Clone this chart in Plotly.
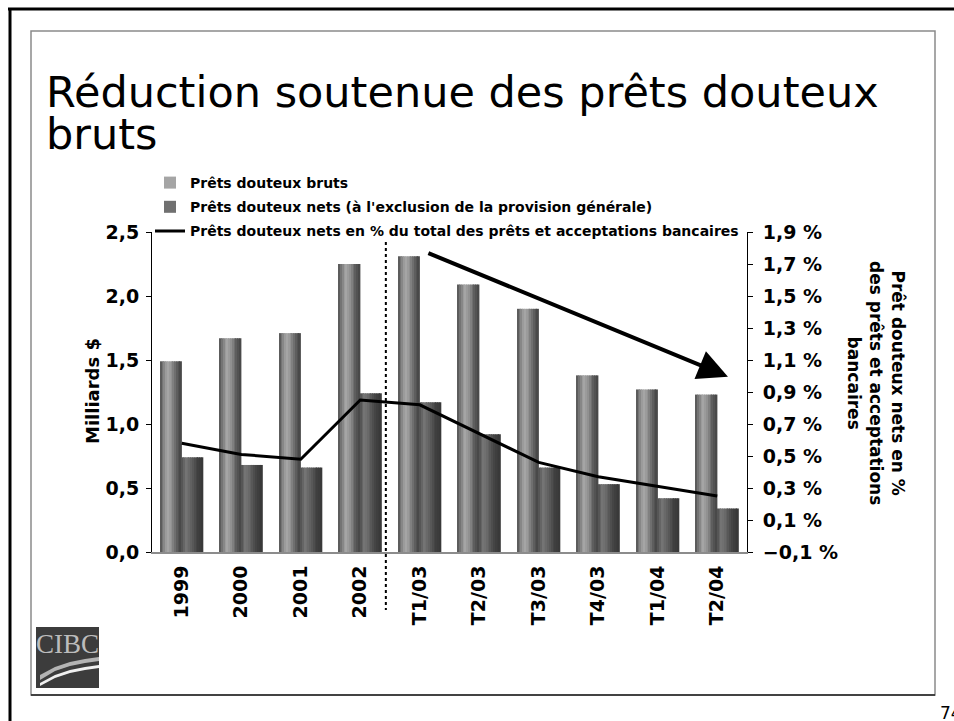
import plotly.graph_objects as go

# ---- data -------------------------------------------------------------
categories = ["1999", "2000", "2001", "2002", "T1/03", "T2/03",
              "T3/03", "T4/03", "T1/04", "T2/04"]
gross_impaired = [1.49, 1.67, 1.71, 2.25, 2.31, 2.09, 1.90, 1.38, 1.27, 1.23]
net_impaired = [0.74, 0.68, 0.66, 1.24, 1.17, 0.92, 0.66, 0.53, 0.42, 0.34]
net_pct_loans = [0.58, 0.51, 0.48, 0.85, 0.82, 0.64, 0.46, 0.37, 0.31, 0.25]

name_gross = "Prêts douteux bruts"
name_net = "Prêts douteux nets (à l'exclusion de la provision générale)"
name_pct = "Prêts douteux nets en % du total des prêts et acceptations bancaires"

# ---- page geometry ----------------------------------------------------
W, H = 954, 721
ML, MR, MT, MB = 152, 207, 232, 169
PW, PH = W - ML - MR, H - MT - MB


def px(x):
    return (x - ML) / PW


def py(y):
    return (H - MB - y) / PH


BOLD = dict(family="DejaVu Sans", weight="bold", color="black")

fig = go.Figure()

# ---- cylinder-shaded bars: each bar is built from thin vertical strips --
BAR_W = 0.36
N_STRIPS = 12


def shade(stops, t):
    for (t0, v0), (t1, v1) in zip(stops, stops[1:]):
        if t0 <= t <= t1:
            v = v0 + (v1 - v0) * (t - t0) / (t1 - t0)
            v = int(round(v))
            return f"rgb({v},{v},{v})"
    v = stops[-1][1]
    return f"rgb({v},{v},{v})"


gross_stops = [(0, 80), (0.12, 115), (0.35, 168), (0.55, 144), (0.8, 92), (1, 68)]
net_stops = [(0, 78), (0.22, 118), (0.45, 98), (0.75, 64), (1, 56)]


def add_shaded(values, start, stops, name, group, legend_strip):
    sw = BAR_W / N_STRIPS
    for k in range(N_STRIPS):
        t = (k + 0.5) / N_STRIPS
        fig.add_trace(go.Bar(
            x=categories, y=values,
            offset=start + k * sw, width=sw * 1.08,
            marker=dict(color=shade(stops, t), line=dict(width=0)),
            name=name, legendgroup=group,
            showlegend=(k == legend_strip),
            hoverinfo="skip" if k != legend_strip else None,
        ))


add_shaded(gross_impaired, -BAR_W, gross_stops, name_gross, "g", 4)
add_shaded(net_impaired, 0.0, net_stops, name_net, "n", 3)

# ---- ratio line on the right-hand axis ---------------------------------
fig.add_trace(go.Scatter(
    x=categories, y=net_pct_loans, yaxis="y2", mode="lines",
    line=dict(color="black", width=3), name=name_pct, legendgroup="p",
))

# ---- axes ---------------------------------------------------------------
TICK_FONT = dict(size=19, **BOLD)
fig.update_layout(
    width=W, height=H, autosize=False,
    margin=dict(l=ML, r=MR, t=MT, b=MB, pad=0),
    paper_bgcolor="white", plot_bgcolor="white",
    separators=", ",
    barmode="overlay",
    font=dict(family="DejaVu Sans", color="black"),
    xaxis=dict(
        type="category", range=[-0.5, 9.5], tickangle=-90,
        showline=True, linecolor="#8c8c8c", linewidth=2,
        ticks="", showgrid=False, tickfont=TICK_FONT,
        ticklabelstandoff=4,
    ),
    yaxis=dict(
        range=[0, 2.5], dtick=0.5, tick0=0, tickformat=".1f",
        showline=True, linecolor="black", linewidth=1,
        ticks="outside", ticklen=5, tickcolor="black",
        showgrid=False, zeroline=False, tickfont=TICK_FONT,
        ticklabelstandoff=3,
    ),
    yaxis2=dict(
        overlaying="y", side="right", anchor="x",
        range=[-0.1, 1.9], dtick=0.2, tick0=-0.1, tickformat=".1f",
        ticksuffix=" %",
        showline=True, linecolor="black", linewidth=1,
        ticks="outside", ticklen=5, tickcolor="black",
        showgrid=False, zeroline=False, tickfont=TICK_FONT,
        ticklabelstandoff=6,
    ),
    legend=dict(
        x=px(150), y=py(167), xanchor="left", yanchor="top",
        bgcolor="rgba(0,0,0,0)", borderwidth=0,
        font=dict(size=14, **BOLD), tracegroupgap=3,
        traceorder="grouped",
    ),
    showlegend=True,
)

# ---- separator between annual and quarterly figures -------------------
fig.add_shape(type="line", xref="x", yref="paper",
              x0=3.43, x1=3.43, y0=py(242), y1=py(610),
              line=dict(color="black", width=2, dash="dot"))

# ---- downward trend arrow ------------------------------------------------
fig.add_annotation(
    x=9.18, y=1.37, xref="x", yref="y",
    ax=4.12, ay=2.34, axref="x", ayref="y",
    text="", showarrow=True, arrowhead=2, arrowsize=1.5,
    arrowwidth=4, arrowcolor="black", standoff=0, startstandoff=0,
)

# ---- axis titles -------------------------------------------------------
fig.add_annotation(
    x=px(92), y=py(391), xref="paper", yref="paper",
    xanchor="center", yanchor="middle",
    text="Milliards $", textangle=-90, showarrow=False,
    font=dict(size=18, **BOLD),
)
fig.add_annotation(
    x=px(876), y=py(383), xref="paper", yref="paper",
    xanchor="center", yanchor="middle",
    text="Prêt douteux nets en %<br>des prêts et acceptations<br>bancaires",
    textangle=90, showarrow=False, align="center",
    font=dict(size=17, **BOLD),
)

# ---- slide title -------------------------------------------------------
TITLE_FONT = dict(family="DejaVu Sans", size=43, color="black")
fig.add_annotation(
    x=px(44), y=py(92), xref="paper", yref="paper", xanchor="left",
    yanchor="middle", text="Réduction soutenue des prêts douteux",
    showarrow=False, font=TITLE_FONT,
)
fig.add_annotation(
    x=px(44), y=py(134), xref="paper", yref="paper", xanchor="left",
    yanchor="middle", text="bruts",
    showarrow=False, font=TITLE_FONT,
)

# ---- slide frame ---------------------------------------------------------
fig.add_shape(type="line", xref="paper", yref="paper",
              x0=px(8), x1=px(960), y0=py(9), y1=py(9),
              line=dict(color="black", width=3))
fig.add_shape(type="line", xref="paper", yref="paper",
              x0=px(10), x1=px(10), y0=py(8), y1=py(730),
              line=dict(color="black", width=3))
fig.add_shape(type="rect", xref="paper", yref="paper",
              x0=px(31), x1=px(935), y0=py(31), y1=py(695),
              line=dict(color="#8a8a8a", width=1.5))
fig.add_shape(type="line", xref="paper", yref="paper",
              x0=px(31), x1=px(935), y0=py(695), y1=py(695),
              line=dict(color="#222222", width=1.5))

# ---- page number ---------------------------------------------------------
fig.add_annotation(
    x=px(938), y=py(713), xref="paper", yref="paper", xanchor="left",
    yanchor="middle", text="74", showarrow=False,
    font=dict(family="DejaVu Sans", size=17, color="black"),
)

# ---- CIBC logo block -----------------------------------------------------
fig.add_shape(type="rect", xref="paper", yref="paper",
              x0=px(36), x1=px(99), y0=py(627), y1=py(688),
              fillcolor="#3c3c3c", line=dict(width=0))


def path(points):
    pts = [f"{px(a):.5f},{py(b):.5f}" for a, b in points]
    return "M " + " L ".join(pts) + " Z"


# swoosh bands
fig.add_shape(type="path", xref="paper", yref="paper",
              path=path([(40, 675), (55, 667), (70, 662), (85, 659), (99, 657),
                         (99, 661), (85, 663), (70, 666), (55, 671), (40, 680)]),
              fillcolor="#b4b4b4", line=dict(width=0))
fig.add_shape(type="path", xref="paper", yref="paper",
              path=path([(40, 683), (55, 675), (70, 670), (85, 667), (99, 665),
                         (99, 668), (85, 670), (70, 673), (55, 678), (40, 686)]),
              fillcolor="#f0f0f0", line=dict(width=0))
fig.add_annotation(
    x=px(67.5), y=py(644), xref="paper", yref="paper",
    xanchor="center", yanchor="middle",
    text="CIBC", showarrow=False,
    font=dict(family="Liberation Serif", size=27, color="#bcbcbc"),
)

fig.write_html("out.html")
